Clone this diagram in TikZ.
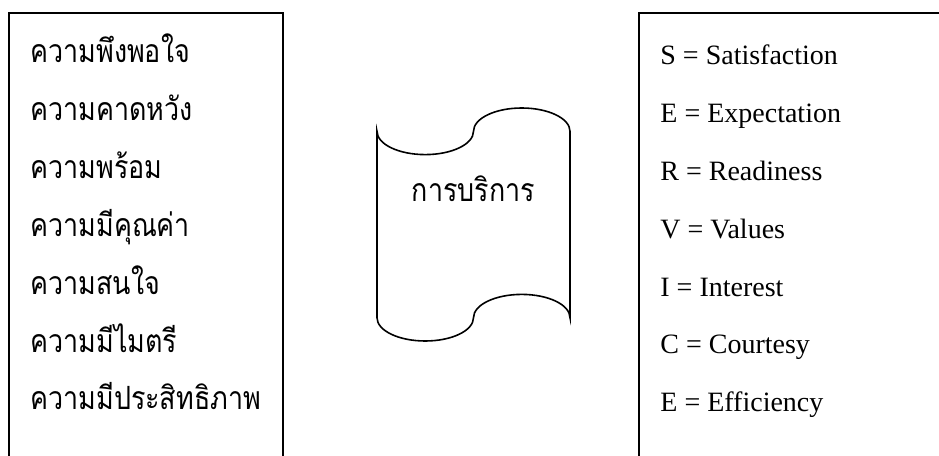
\documentclass[tikz,border=0pt]{standalone}
\usepackage{fontspec}
\setmainfont{Liberation Serif}
\newfontfamily\thaifont[Script=Thai, FakeStretch=0.84]{Loma}
\usetikzlibrary{positioning}
\tikzset{
  framebox/.style={draw=black, line width=0.8pt},
  tapeshape/.style={draw=black, line width=0.8pt},
  thaiterm/.style={
    anchor=base west, inner sep=0pt,
    font=\thaifont\fontsize{16pt}{19pt}\selectfont
  },
  engterm/.style={
    anchor=base west, inner sep=0pt,
    font=\fontsize{14pt}{17pt}\selectfont
  },
  wave/.style={x radius=24.125pt, y radius=11.65pt},
}

\begin{document}
\begin{tikzpicture}[x=0.5pt, y=0.5pt]
  \useasboundingbox (0,0) rectangle (939,456);

  % Open boxes (right one runs off the page)
  \draw[framebox] (9,0) |- (283,443) -- (283,0);
  \draw[framebox] (639,0) |- (939,443);

  % Thai terms
  \node[thaiterm] (th1) at (30,393) {ความพึงพอใจ};
  \node[below=28.9pt of th1.base west, thaiterm] (th2) {ความคาดหวัง};
  \node[below=28.9pt of th2.base west, thaiterm] (th3) {ความพร้อม};
  \node[below=28.9pt of th3.base west, thaiterm] (th4) {ความมีคุณค่า};
  \node[below=28.9pt of th4.base west, thaiterm] (th5) {ความสนใจ};
  \node[below=28.9pt of th5.base west, thaiterm] (th6) {ความมีไมตรี};
  \node[below=28.9pt of th6.base west, thaiterm] (th7) {ความมีประสิทธิภาพ};

  % English terms
  \node[engterm] (en1) at (660,391) {S = Satisfaction};
  \node[below=28.9pt of en1.base west, engterm] (en2) {E = Expectation};
  \node[below=28.9pt of en2.base west, engterm] (en3) {R = Readiness};
  \node[below=28.9pt of en3.base west, engterm] (en4) {V = Values};
  \node[below=28.9pt of en4.base west, engterm] (en5) {I = Interest};
  \node[below=28.9pt of en5.base west, engterm] (en6) {C = Courtesy};
  \node[below=28.9pt of en6.base west, engterm] (en7) {E = Efficiency};

  % Punched tape
  \draw[tapeshape] (377,324.7)
        arc[wave, start angle=180, end angle=360]
        arc[wave, start angle=180, end angle=0] -- (570,138.3)
        arc[wave, start angle=0, end angle=180]
        arc[wave, start angle=0, end angle=-180] -- cycle;
  \node[thaiterm, anchor=base] (service) at (473.5,254) {การบริการ};
\end{tikzpicture}
\end{document}
